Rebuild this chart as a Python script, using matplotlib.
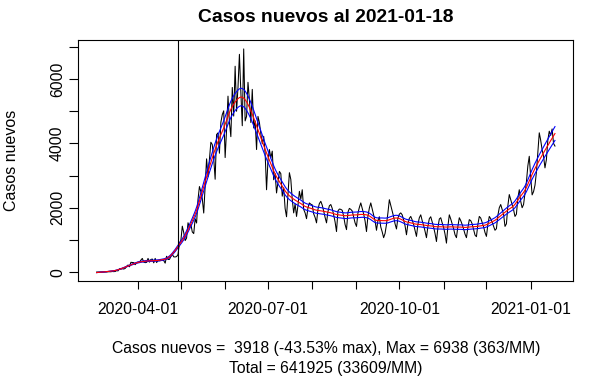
import numpy as np
import pandas as pd
import matplotlib
matplotlib.use("Agg")
import matplotlib.pyplot as plt

plt.rcParams['font.family'] = ['Liberation Sans', 'DejaVu Sans']

# ==========================================
# DATA (daily new cases, 2020-03-03 .. 2021-01-18)
# ==========================================
start_date = '2020-03-03'
mark_date = '2020-04-29'

mar = [1, 2, 1, 1, 2, 3, 3, 4, 10, 10, 10, 18, 14, 19, 45, 37, 104, 92, 103, 95,
       114, 176, 220, 164, 304, 299, 293, 230, 289]
apr = [311, 308, 373, 424, 312, 293, 301, 426, 309, 392, 405, 286, 426, 296, 357,
       351, 359, 368, 357, 277, 493, 391, 394, 482, 552, 473, 470, 482, 545, 905]
may = [985, 1427, 1228, 980, 1059, 1533, 1391, 1480, 1247, 1197, 1658, 1525, 2260,
       2659, 2502, 2278, 1836, 2660, 3520, 2964, 3520, 4038, 3964, 3536, 2886, 4276,
       4328, 3695, 4654, 4895, 5013]
jun = [3560, 4420, 5470, 4660, 4210, 5740, 4850, 6400, 5000, 5740, 6770, 5600, 4550,
       6938, 4700, 4840, 5900, 5360, 4650, 5680, 4480, 4700, 3810, 4840, 4650, 4300,
       3990, 4220, 3700, 2560]
jul = [3480, 3810, 3550, 3760, 2870, 3060, 2460, 2790, 3130, 3060, 2360, 2620, 1980,
       1720, 2420, 3090, 2880, 2260, 1840, 2120, 1730, 2070, 2510, 2270, 2560, 1950,
       1840, 1660, 2000, 2150, 2110]
aug = [2090, 1810, 1700, 1530, 1950, 2130, 2200, 2080, 1900, 1700, 1530, 1880, 2060,
       2100, 1980, 1780, 1560, 1260, 1900, 1960, 1950, 1920, 1740, 1480, 1320, 1860,
       1980, 1950, 1900, 1720, 1530]
sep = [1420, 1830, 2010, 2150, 1980, 1810, 1590, 1260, 1740, 1990, 2150, 1960, 1780,
       1590, 1300, 1600, 1720, 1400, 1250, 1070, 1200, 1480, 1840, 2250, 2070, 1880,
       1720, 1500, 1340, 1680]
oct_ = [1800, 1840, 1780, 1620, 1440, 1160, 1500, 1670, 1730, 1620, 1480, 1300, 1110,
        1480, 1690, 1780, 1600, 1450, 1270, 1070, 1420, 1660, 1720, 1560, 1400, 1200,
        950, 1380, 1650, 1690, 1530]
nov = [1390, 1180, 900, 1420, 1780, 1650, 1500, 1350, 1160, 1070, 1420, 1690, 1600,
       1480, 1340, 1180, 1070, 1380, 1630, 1600, 1500, 1330, 1150, 1100, 1480, 1730,
       1680, 1550, 1410, 1230]
dec = [1110, 1480, 1730, 1660, 1550, 1420, 1300, 1350, 1760, 2000, 2100, 1950, 1800,
       1420, 1500, 2060, 2410, 2250, 2100, 1940, 1730, 1800, 2300, 2560, 2200, 2000,
       2100, 2450, 2800, 3300, 3600]
jan = [2950, 2400, 2500, 2700, 3100, 3700, 4330, 4100, 3800, 3600, 3240, 3500, 4100,
       4380, 4250, 4450, 4000, 3918]

cases = mar + apr + may + jun + jul + aug + sep + oct_ + nov + dec + jan
dates = pd.date_range(start_date, periods=len(cases), freq='D')

title_txt = 'Casos nuevos al 2021-01-18'
ylabel_txt = 'Casos nuevos'
foot1 = 'Casos nuevos =  3918 (-43.53% max), Max = 6938 (363/MM)'
foot2 = 'Total = 641925 (33609/MM)'


# local linear (loess-like) smoother, tricube weights
def loess(y, k=25, deg=1):
    y = np.asarray(y, dtype=float)
    n = len(y)
    x = np.arange(n, dtype=float)
    out = np.empty(n)
    for i in range(n):
        d = np.abs(x - i)
        h = np.sort(d)[k - 1] + 1e-9
        w = np.clip(1 - (d / h) ** 3, 0, None) ** 3
        m = w > 0
        p = np.polyfit(x[m], y[m], deg, w=np.sqrt(w[m]))
        out[i] = np.polyval(p, i)
    return out


smooth = loess(cases, k=25, deg=1)
band = 0.05

# ==========================================
# PLOT
# ==========================================
W, H = 614, 379
fig = plt.figure(figsize=(W / 100, H / 100), dpi=100)
ax = fig.add_axes([78.3 / W, 1 - 281 / H, (573.3 - 78.3) / W, (281 - 40) / H])

ax.plot(dates, cases, color='black', lw=0.75)
ax.plot(dates, smooth * (1 + band), color='blue', lw=0.8)
ax.plot(dates, smooth * (1 - band), color='blue', lw=0.8)
ax.plot(dates, smooth, color='red', lw=0.8)
ax.axvline(pd.Timestamp(mark_date), color='black', lw=0.8)

# R style limits (4% padding)
span = dates[-1] - dates[0]
ax.set_xlim(dates[0] - span * 0.04, dates[-1] + span * 0.04)
ymax = max(cases)
ax.set_ylim(-0.04 * ymax, 1.04 * ymax)

xt = pd.date_range('2020-04-01', '2021-01-01', freq='MS')
ax.set_xticks(xt)
ax.set_xticklabels([d.strftime('%Y-%m-%d') if d.month in (1, 4, 7, 10) else '' for d in xt])
yt = np.arange(0, 8000, 1000)
ax.set_yticks(yt)
ax.set_yticklabels([str(v) if v % 2000 == 0 else '' for v in yt], rotation=90, va='center')

ax.tick_params(axis='x', length=6, width=0.8, pad=9, labelsize=11.3)
ax.tick_params(axis='y', length=6.5, width=0.8, pad=3, labelsize=11.3)
for sp in ax.spines.values():
    sp.set_linewidth(0.8)

fig.text(325.8 / W, 1 - 18 / H, title_txt, ha='center', va='center',
         fontsize=13.9, fontweight='bold')
fig.text(12 / W, 1 - 160.5 / H, ylabel_txt, ha='center', va='center',
         rotation=90, fontsize=11.5)
fig.text(325.8 / W, 1 - 349 / H, foot1, ha='center', va='center', fontsize=11.3)
fig.text(325.8 / W, 1 - 368 / H, foot2, ha='center', va='center', fontsize=11.3)

fig.savefig('out.png', dpi=100)
